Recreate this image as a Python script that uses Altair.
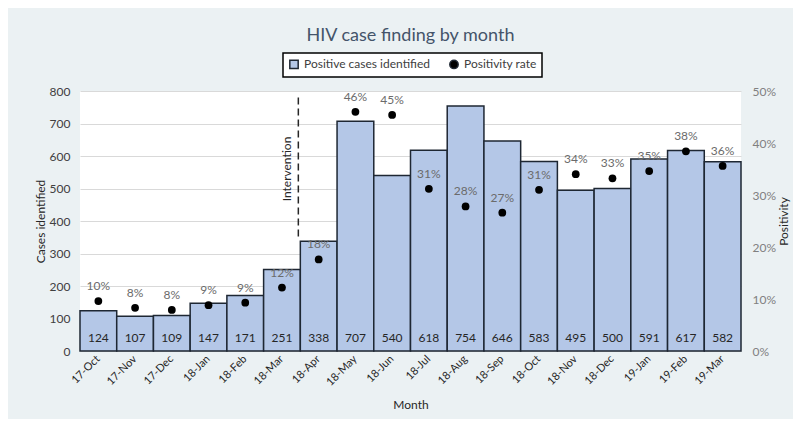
import altair as alt
import pandas as pd

months = ["17-Oct", "17-Nov", "17-Dec", "18-Jan", "18-Feb", "18-Mar", "18-Apr", "18-May", "18-Jun",
          "18-Jul", "18-Aug", "18-Sep", "18-Oct", "18-Nov", "18-Dec", "19-Jan", "19-Feb", "19-Mar"]
cases = [124, 107, 109, 147, 171, 251, 338, 707, 540, 618, 754, 646, 583, 495, 500, 591, 617, 582]
positivity = [9.6, 8.3, 7.9, 8.8, 9.3, 12.2, 17.6, 46.0, 45.4, 31.2, 27.8, 26.6, 31.0, 34.0, 33.2, 34.6, 38.4, 35.6]
pct_labels = ["10%", "8%", "8%", "9%", "9%", "12%", "18%", "46%", "45%", "31%", "28%", "27%",
              "31%", "34%", "33%", "35%", "38%", "36%"]
left_ticks = [0, 100, 200, 300, 400, 500, 600, 700, 800]
right_ticks = [0, 10, 20, 30, 40, 50]

series_names = ["Positive cases identified", "Positivity rate"]
intervention_month = "18-Apr"
intervention_top = 780
intervention_bottom = 340
intervention_text_y = 560

BAR = "#b4c7e7"
TXT = "#404040"

df = pd.DataFrame({
    "month": months,
    "cases": cases,
    "pos": positivity,
    "plabel": pct_labels,
    "series": ["Positivity rate"] * len(months),
})
iv = pd.DataFrame({"month": [intervention_month], "top": [intervention_top],
                   "bottom": [intervention_bottom], "ty": [intervention_text_y],
                   "label": ["Intervention"]})

xaxis = alt.Axis(labelAngle=-45, labelAlign="right", labelBaseline="middle",
                 labelFontSize=11, labelColor="#262626", ticks=False, domain=False,
                 labelPadding=6, titlePadding=12)
xscale = alt.Scale(paddingInner=0, paddingOuter=0)

def X(**kw):
    return alt.X("month:N", sort=months, title="Month", scale=xscale, axis=xaxis, **kw)

yleft = alt.Scale(domain=[0, 800])
left_axis = alt.Axis(values=left_ticks, orient="left", grid=True, gridColor="#d9d9d9",
                     domain=False, ticks=False, labelPadding=10, titlePadding=2,
                     labelOverlap=False)

bars = alt.Chart(df).mark_bar(fill=BAR, stroke="#1e2733", strokeWidth=1.5).encode(
    x=X(),
    y=alt.Y("cases:Q", scale=yleft, title="Cases identified", axis=left_axis),
)
bar_text = alt.Chart(df).mark_text(baseline="middle", dy=-13, fontSize=12, color="#262626").encode(
    x=X(),
    y=alt.Y("zero:Q", scale=yleft, title="Cases identified", axis=left_axis),
    text="cases:Q",
).transform_calculate(zero="0")
rule = alt.Chart(iv).mark_rule(color="#262626", strokeDash=[7, 4], strokeWidth=1.5, xOffset=-2).encode(
    x=X(bandPosition=0),
    y=alt.Y("top:Q", scale=yleft, title="Cases identified", axis=left_axis),
    y2="bottom:Q",
)
iv_text = alt.Chart(iv).mark_text(angle=270, fontSize=12, color="#262626", xOffset=-13,
                                  baseline="middle", align="center").encode(
    x=X(bandPosition=0),
    y=alt.Y("ty:Q", scale=yleft, title="Cases identified", axis=left_axis),
    text="label:N",
)
left = alt.layer(bars, bar_text, rule, iv_text)

yright = alt.Scale(domain=[0, 50])
right_axis = alt.Axis(orient="right", values=right_ticks, grid=False, domain=False, ticks=False,
                      labelExpr="datum.value + '%'", labelColor="#808080", labelPadding=11,
                      titlePadding=3, titleAngle=270, titleBaseline="top", labelOverlap=False)
points = alt.Chart(df).mark_point(filled=True, size=60, opacity=1).encode(
    x=X(),
    y=alt.Y("pos:Q", scale=yright, title="Positivity", axis=right_axis),
    color=alt.Color("series:N", title=None,
                    scale=alt.Scale(domain=series_names, range=[BAR, "black"]),
                    legend=alt.Legend(orient="none", legendX=203, legendY=-38,
                                      direction="horizontal")),
    shape=alt.Shape("series:N", title=None,
                    scale=alt.Scale(domain=series_names, range=["square", "circle"])),
)
pct_text = alt.Chart(df).mark_text(baseline="middle", dy=-15, fontSize=12, color="#6b6b6b").encode(
    x=X(),
    y=alt.Y("pos:Q", scale=yright, title="Positivity", axis=right_axis),
    text="plabel:N",
)
right = alt.layer(points, pct_text)

chart = alt.layer(left, right).resolve_scale(y="independent").properties(
    width=661, height=260,
    title=alt.TitleParams("HIV case finding by month", anchor="middle", fontSize=18,
                          fontWeight="normal", color="#44546a", offset=7),
    background="#ebf1f3",
    autosize=alt.AutoSizeParams(type="none"),
    padding={"left": 72, "top": 83, "right": 52, "bottom": 68},
).configure(font="Lato").configure_view(
    fill="white", stroke=None
).configure_axis(
    labelFontSize=12, labelColor=TXT, titleFontSize=12, titleColor="#262626",
    titleFontWeight="normal", labelFont="Lato", titleFont="Lato"
).configure_legend(
    strokeColor="black", strokeWidth=1.5, fillColor="white", padding=5,
    labelFontSize=12, labelColor=TXT, symbolSize=70, columnPadding=16,
    symbolStrokeColor="#1e2733", symbolStrokeWidth=1.5, labelFont="Lato"
)

chart.save("out.html", embed_options={"renderer": "svg", "actions": False})
